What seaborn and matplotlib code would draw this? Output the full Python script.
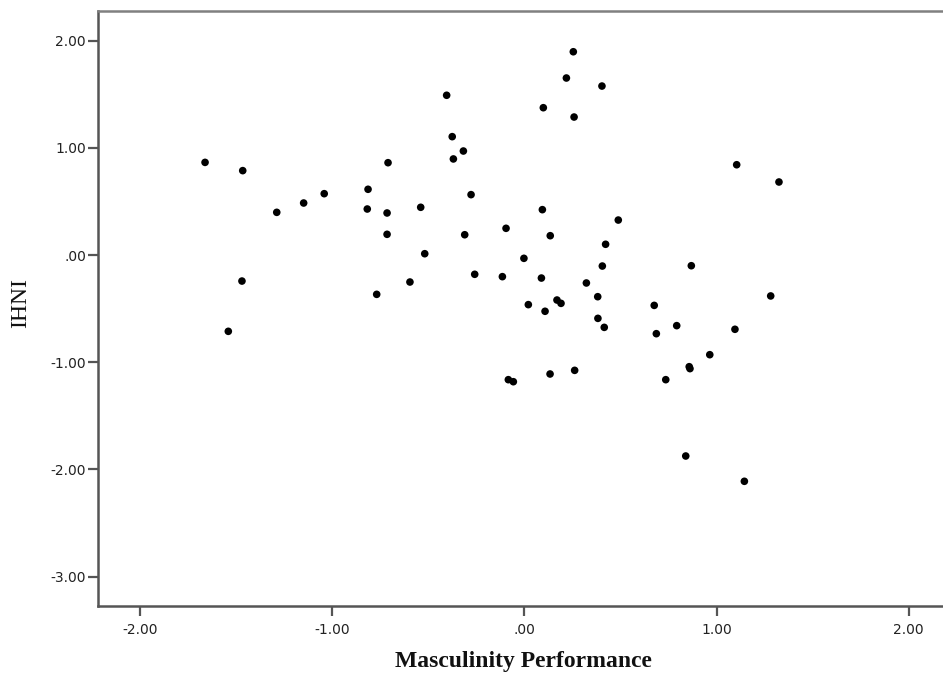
import matplotlib
matplotlib.use("Agg")
import matplotlib.pyplot as plt
import seaborn as sns
import pandas as pd

masculinity = [
    -1.661, -1.465, -1.288, -1.148, -1.469, -1.540,
    0.255, 0.219, 0.404, 0.099, 0.259,
    -0.404, -0.375, -0.317, -0.369, -0.709, -1.041, -0.813, -0.817,
    -0.714, -0.714, -0.539, -0.277, -0.518, -0.310, -0.595, -0.768,
    -0.258, -0.095, -0.114, 0.094, 0.135, -0.002, 0.089, 0.323,
    0.021, 0.108, 0.170, 0.191, 0.382, 0.383, 0.416, 0.423, 0.406,
    0.489, 1.105, 1.325, 0.869, 1.282, 0.676, 0.793, 0.687, 1.096,
    0.965, 0.858, 0.862, 0.736, 0.840, 1.145, -0.083, -0.057, 0.134, 0.262,
]
ihni = [
    0.864, 0.787, 0.398, 0.485, -0.243, -0.712,
    1.896, 1.651, 1.576, 1.374, 1.287,
    1.490, 1.104, 0.970, 0.896, 0.861, 0.572, 0.613, 0.429,
    0.392, 0.193, 0.445, 0.563, 0.012, 0.189, -0.252, -0.367,
    -0.180, 0.249, -0.202, 0.423, 0.180, -0.031, -0.215, -0.261,
    -0.463, -0.525, -0.420, -0.451, -0.389, -0.591, -0.675, 0.100, -0.103,
    0.326, 0.842, 0.681, -0.100, -0.382, -0.470, -0.659, -0.734, -0.693,
    -0.930, -1.042, -1.060, -1.163, -1.875, -2.111, -1.163, -1.182, -1.110, -1.076,
]
x_ticks = [-2.0, -1.0, 0.0, 1.0, 2.0]
x_tick_labels = ["-2.00", "-1.00", ".00", "1.00", "2.00"]
y_ticks = [-3.0, -2.0, -1.0, 0.0, 1.0, 2.0]
y_tick_labels = ["-3.00", "-2.00", "-1.00", ".00", "1.00", "2.00"]

df = pd.DataFrame({"Masculinity Performance": masculinity, "IHNI": ihni})

sns.set_style("white")
plt.rcParams["font.family"] = ["DejaVu Sans"]

W, H = 943, 680
fig = plt.figure(figsize=(W / 100, H / 100), dpi=100)
L, R, T, B = 97.7, 943.0, 11.0, 606.0
ax = fig.add_axes([L / W, (H - B) / H, (R - L) / W, (B - T) / H])

sns.scatterplot(data=df, x="Masculinity Performance", y="IHNI", ax=ax,
                color="black", s=30, edgecolor="none", linewidth=0)

x0, xs = 524.3, 192.2
y0, ys = 255.0, 107.2
ax.set_xlim((L - x0) / xs, (R - x0) / xs)
ax.set_ylim((y0 - B) / ys, (y0 - T) / ys)

ax.set_xticks(x_ticks)
ax.set_xticklabels(x_tick_labels)
ax.set_yticks(y_ticks)
ax.set_yticklabels(y_tick_labels)
ax.tick_params(axis="both", which="major", bottom=True, left=True, top=False, right=False,
               direction="out", length=7.5, width=1.6, color="#555555",
               labelsize=10, labelcolor="#222222", pad=1.0)
ax.tick_params(axis="x", pad=5)

for side in ["left", "bottom"]:
    ax.spines[side].set_color("#555555")
    ax.spines[side].set_linewidth(1.8)
ax.spines["top"].set_color("#808080")
ax.spines["top"].set_linewidth(1.8)
ax.spines["right"].set_visible(False)

ax.set_xlabel("Masculinity Performance", fontfamily="Liberation Serif",
              fontweight="bold", fontsize=17, color="#111111")
ax.set_ylabel("IHNI", fontfamily="Liberation Serif", fontsize=17,
              color="#111111")
ax.xaxis.set_label_coords((523.5 - L) / (R - L), -(651 - B) / (B - T), transform=ax.transAxes)
ax.yaxis.set_label_coords(-(L - 31) / (R - L), (B - 303) / (B - T), transform=ax.transAxes)

fig.savefig("out.png", dpi=100, facecolor="white")
